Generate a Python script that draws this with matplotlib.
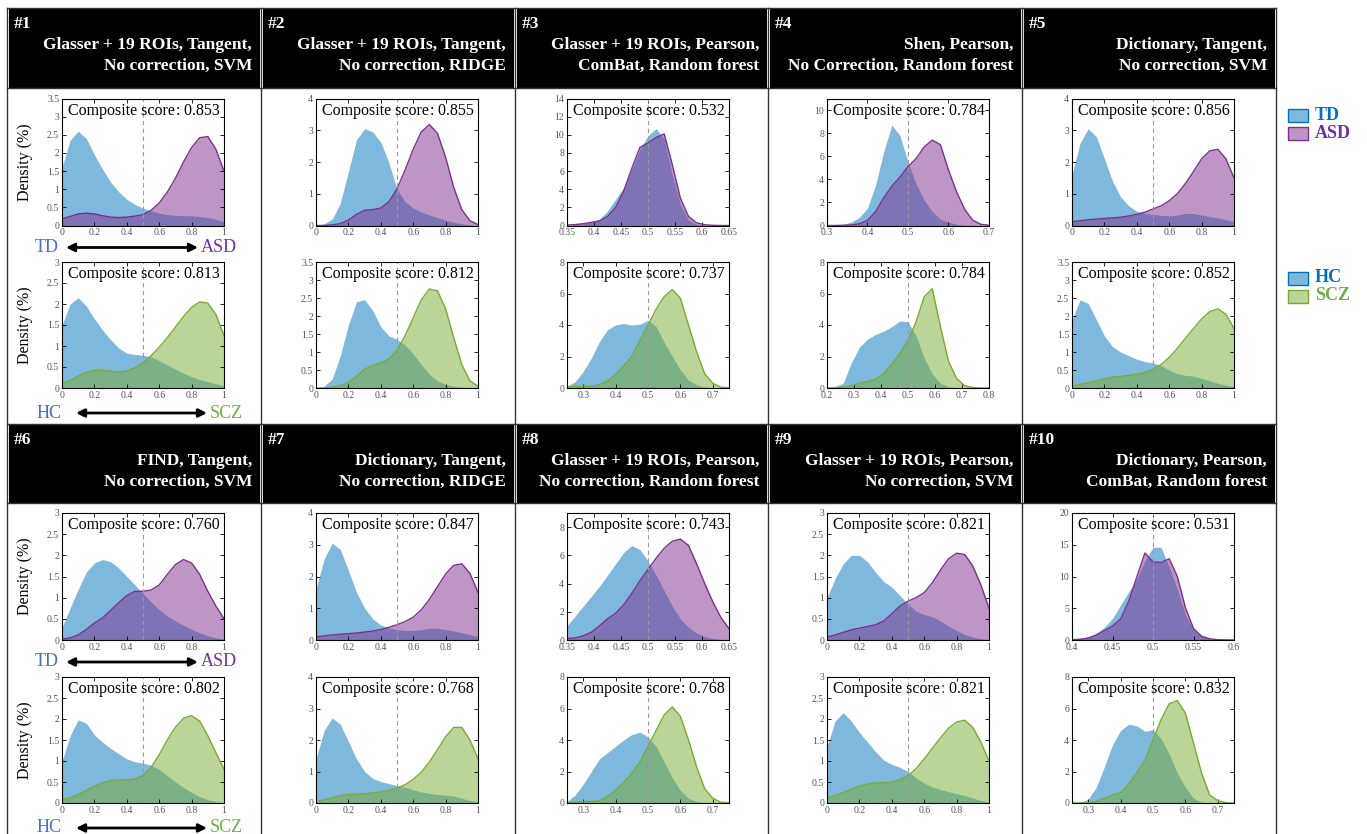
import numpy as np
import matplotlib
matplotlib.use('Agg')
import matplotlib.pyplot as plt
from matplotlib.patches import Rectangle

# ---------------- data ----------------
HEADERS = [
    ("#1", "Glasser + 19 ROIs, Tangent,", "No correction, SVM"),
    ("#2", "Glasser + 19 ROIs, Tangent,", "No correction, RIDGE"),
    ("#3", "Glasser + 19 ROIs, Pearson,", "ComBat, Random forest"),
    ("#4", "Shen, Pearson,", "No Correction, Random forest"),
    ("#5", "Dictionary, Tangent,", "No correction, SVM"),
    ("#6", "FIND, Tangent,", "No correction, SVM"),
    ("#7", "Dictionary, Tangent,", "No correction, RIDGE"),
    ("#8", "Glasser + 19 ROIs, Pearson,", "No correction, Random forest"),
    ("#9", "Glasser + 19 ROIs, Pearson,", "No correction, SVM"),
    ("#10", "Dictionary, Pearson,", "ComBat, Random forest"),
]
SCORE_ASD = ["0.853", "0.855", "0.532", "0.784", "0.856", "0.760", "0.847", "0.743", "0.821", "0.531"]
SCORE_SCZ = ["0.813", "0.812", "0.737", "0.784", "0.852", "0.802", "0.768", "0.768", "0.821", "0.832"]

XLIM_ASD = [(0, 1), (0, 1), (0.35, 0.65), (0.3, 0.7), (0, 1), (0, 1), (0, 1), (0.35, 0.65), (0, 1), (0.4, 0.6)]
XLIM_SCZ = [(0, 1), (0, 1), (0.25, 0.75), (0.2, 0.8), (0, 1), (0, 1), (0, 1), (0.25, 0.75), (0, 1), (0.25, 0.75)]
XT01 = [0, 0.2, 0.4, 0.6, 0.8, 1]
XT_NARROW = [0.35, 0.4, 0.45, 0.5, 0.55, 0.6, 0.65]
XT_MID = [0.3, 0.4, 0.5, 0.6, 0.7]
XT_WIDE = [0.2, 0.3, 0.4, 0.5, 0.6, 0.7, 0.8]
XT_TINY = [0.4, 0.45, 0.5, 0.55, 0.6]
XTICK_ASD = [XT01, XT01, XT_NARROW, XT_MID, XT01, XT01, XT01, XT_NARROW, XT01, XT_TINY]
XTICK_SCZ = [XT01, XT01, XT_MID, XT_WIDE, XT01, XT01, XT01, XT_MID, XT01, XT_MID]
YLIM_ASD = [3.5, 4, 14, 11, 4, 3, 4, 9, 3, 20]
YSTEP_ASD = [0.5, 1, 2, 2, 1, 0.5, 1, 2, 0.5, 5]
YLIM_SCZ = [3, 3.5, 8, 8, 3.5, 3, 4, 8, 3, 8]
YSTEP_SCZ = [0.5, 0.5, 2, 2, 0.5, 0.5, 1, 2, 0.5, 2]

# density curves, 21 evenly spaced samples across each panel's x-range
TD_1 = [1.6, 2.35, 2.6, 2.4, 1.95, 1.55, 1.2, 0.93, 0.72, 0.58, 0.48, 0.4, 0.34, 0.3, 0.28, 0.27, 0.27, 0.25, 0.22, 0.17, 0.1]
ASD_1 = [0.18, 0.25, 0.32, 0.34, 0.32, 0.27, 0.23, 0.22, 0.23, 0.26, 0.3, 0.42, 0.62, 0.92, 1.3, 1.75, 2.15, 2.42, 2.45, 2.1, 1.5]
HC_1 = [1.5, 2.0, 2.15, 1.95, 1.65, 1.38, 1.15, 0.95, 0.83, 0.8, 0.78, 0.74, 0.65, 0.55, 0.45, 0.35, 0.27, 0.2, 0.15, 0.1, 0.05]
SCZ_1 = [0.1, 0.18, 0.28, 0.37, 0.42, 0.42, 0.4, 0.38, 0.4, 0.48, 0.6, 0.77, 0.97, 1.2, 1.45, 1.7, 1.92, 2.05, 2.02, 1.75, 1.25]

TD_2 = [0, 0.05, 0.2, 0.7, 1.7, 2.7, 3.05, 2.95, 2.62, 1.98, 1.15, 0.75, 0.55, 0.43, 0.33, 0.25, 0.17, 0.1, 0.05, 0.02, 0]
ASD_2 = [0, 0, 0.02, 0.06, 0.17, 0.35, 0.48, 0.5, 0.55, 0.75, 1.15, 1.75, 2.4, 2.95, 3.18, 2.9, 2.15, 1.2, 0.5, 0.15, 0.03]
HC_2 = [0, 0.05, 0.25, 0.9, 1.75, 2.4, 2.45, 2.15, 1.7, 1.45, 1.35, 1.2, 0.95, 0.65, 0.38, 0.2, 0.1, 0.05, 0.02, 0.01, 0]
SCZ_2 = [0, 0, 0.02, 0.06, 0.15, 0.33, 0.52, 0.63, 0.7, 0.8, 1.05, 1.45, 1.95, 2.45, 2.75, 2.7, 2.2, 1.4, 0.65, 0.2, 0.05]

TD_3 = [0.05, 0.1, 0.2, 0.4, 0.7, 1.6, 2.9, 4.2, 6.2, 8.4, 9.9, 10.7, 9.5, 5.6, 2.3, 0.6, 0.1, 0.02, 0.01, 0, 0]
ASD_3 = [0.05, 0.1, 0.2, 0.35, 0.5, 1.0, 2.0, 3.8, 6.3, 8.6, 9.1, 9.7, 10.1, 6.7, 3.0, 1.0, 0.3, 0.08, 0.02, 0, 0]
HC_3 = [0.1, 0.4, 1.05, 1.9, 2.95, 3.7, 4.0, 4.1, 4.0, 4.05, 4.3, 3.9, 2.9, 2.0, 1.15, 0.5, 0.2, 0.05, 0.02, 0, 0]
SCZ_3 = [0.05, 0.1, 0.1, 0.12, 0.2, 0.45, 0.85, 1.4, 2.0, 3.0, 4.0, 5.0, 5.8, 6.25, 5.7, 4.0, 2.3, 0.9, 0.3, 0.05, 0.02]

TD_4 = [0.02, 0.05, 0.1, 0.3, 0.7, 1.5, 3.5, 6.4, 8.7, 7.8, 5.5, 3.6, 2.2, 1.2, 0.55, 0.3, 0.1, 0.03, 0.01, 0, 0]
ASD_4 = [0, 0, 0.02, 0.05, 0.15, 0.45, 1.2, 2.4, 3.4, 4.2, 5.1, 5.8, 6.8, 7.4, 7.0, 4.8, 2.9, 1.4, 0.45, 0.1, 0.02]
HC_4 = [0.02, 0.1, 0.3, 1.6, 2.6, 3.1, 3.4, 3.6, 3.9, 4.25, 4.2, 3.3, 1.9, 0.9, 0.3, 0.08, 0.03, 0.01, 0, 0, 0]
SCZ_4 = [0, 0.02, 0.05, 0.15, 0.3, 0.4, 0.55, 0.9, 1.5, 2.2, 3.0, 4.2, 5.8, 6.3, 3.9, 1.7, 0.6, 0.15, 0.03, 0, 0]

TD_5 = [1.6, 2.6, 3.05, 2.8, 2.1, 1.4, 0.9, 0.62, 0.45, 0.38, 0.35, 0.32, 0.3, 0.33, 0.38, 0.38, 0.33, 0.28, 0.24, 0.18, 0.12]
ASD_5 = [0.12, 0.15, 0.18, 0.2, 0.22, 0.24, 0.26, 0.3, 0.35, 0.42, 0.52, 0.62, 0.78, 1.0, 1.32, 1.7, 2.1, 2.35, 2.4, 2.1, 1.5]
HC_5 = [1.9, 2.45, 2.35, 1.9, 1.45, 1.15, 1.0, 0.9, 0.8, 0.73, 0.7, 0.62, 0.5, 0.4, 0.35, 0.33, 0.27, 0.2, 0.13, 0.08, 0.04]
SCZ_5 = [0.05, 0.1, 0.15, 0.2, 0.25, 0.3, 0.32, 0.35, 0.38, 0.43, 0.52, 0.65, 0.85, 1.1, 1.38, 1.65, 1.92, 2.12, 2.2, 2.05, 1.65]

TD_6 = [0.3, 0.75, 1.2, 1.6, 1.82, 1.9, 1.85, 1.7, 1.5, 1.3, 1.1, 0.9, 0.72, 0.57, 0.45, 0.35, 0.25, 0.17, 0.1, 0.05, 0.02]
ASD_6 = [0.02, 0.05, 0.12, 0.25, 0.4, 0.52, 0.7, 0.88, 1.05, 1.15, 1.15, 1.18, 1.3, 1.55, 1.78, 1.9, 1.82, 1.55, 1.15, 0.8, 0.5]
HC_6 = [1.0, 1.6, 1.98, 1.9, 1.62, 1.45, 1.3, 1.17, 1.05, 0.98, 0.95, 0.9, 0.8, 0.65, 0.5, 0.37, 0.25, 0.15, 0.08, 0.03, 0.01]
SCZ_6 = [0.08, 0.12, 0.2, 0.3, 0.4, 0.48, 0.53, 0.55, 0.55, 0.57, 0.65, 0.85, 1.15, 1.5, 1.8, 2.02, 2.08, 1.95, 1.6, 1.2, 0.8]

TD_7 = [1.6, 2.55, 3.05, 2.85, 2.2, 1.5, 1.0, 0.67, 0.47, 0.38, 0.33, 0.3, 0.3, 0.33, 0.37, 0.37, 0.33, 0.28, 0.23, 0.17, 0.1]
ASD_7 = [0.1, 0.13, 0.16, 0.18, 0.2, 0.22, 0.25, 0.28, 0.33, 0.4, 0.48, 0.58, 0.72, 0.95, 1.28, 1.68, 2.08, 2.35, 2.4, 2.1, 1.5]
HC_7 = [1.4, 2.3, 2.7, 2.5, 1.95, 1.4, 1.0, 0.78, 0.68, 0.62, 0.55, 0.5, 0.42, 0.35, 0.3, 0.27, 0.25, 0.22, 0.15, 0.08, 0.04]
SCZ_7 = [0.05, 0.1, 0.17, 0.23, 0.27, 0.28, 0.29, 0.32, 0.35, 0.4, 0.48, 0.58, 0.75, 0.98, 1.3, 1.7, 2.1, 2.4, 2.4, 2.0, 1.4]

TD_8 = [1.0, 1.7, 2.4, 3.1, 3.8, 4.6, 5.4, 6.2, 6.7, 6.4, 5.6, 4.6, 3.5, 2.4, 1.5, 0.9, 0.5, 0.25, 0.1, 0.05, 0.02]
ASD_8 = [0.1, 0.15, 0.3, 0.55, 1.0, 1.5, 1.9, 2.5, 3.3, 4.2, 5.0, 5.8, 6.5, 7.0, 7.15, 6.7, 5.4, 4.0, 2.7, 1.6, 0.8]
HC_8 = [0.1, 0.5, 1.2, 2.0, 2.8, 3.2, 3.6, 4.0, 4.35, 4.5, 4.2, 3.6, 2.6, 1.6, 0.8, 0.3, 0.1, 0.03, 0.01, 0, 0]
SCZ_8 = [0.02, 0.05, 0.08, 0.1, 0.15, 0.4, 0.8, 1.3, 1.9, 2.6, 3.6, 4.6, 5.6, 6.1, 5.5, 4.0, 2.3, 0.9, 0.3, 0.05, 0.02]

TD_9 = [1.0, 1.45, 1.8, 2.0, 2.0, 1.85, 1.6, 1.38, 1.25, 1.05, 0.85, 0.68, 0.6, 0.55, 0.45, 0.33, 0.22, 0.13, 0.07, 0.03, 0.01]
ASD_9 = [0.07, 0.12, 0.18, 0.24, 0.28, 0.32, 0.36, 0.45, 0.62, 0.8, 0.92, 1.0, 1.12, 1.35, 1.65, 1.92, 2.05, 2.02, 1.75, 1.3, 0.75]
HC_9 = [1.35, 1.95, 2.15, 1.95, 1.68, 1.45, 1.22, 1.02, 0.92, 0.85, 0.75, 0.6, 0.47, 0.38, 0.32, 0.27, 0.22, 0.18, 0.12, 0.06, 0.02]
SCZ_9 = [0.12, 0.18, 0.25, 0.33, 0.4, 0.45, 0.48, 0.48, 0.5, 0.55, 0.65, 0.82, 1.05, 1.3, 1.55, 1.78, 1.93, 1.97, 1.8, 1.45, 1.0]

TD_10 = [0.2, 0.3, 0.5, 1.0, 2.0, 3.4, 5.5, 7.6, 9.6, 12.5, 14.6, 14.6, 11.5, 8.0, 4.0, 1.6, 0.6, 0.2, 0.06, 0.02, 0]
ASD_10 = [0.05, 0.1, 0.3, 0.8, 1.5, 2.2, 3.3, 6.1, 9.9, 13.7, 12.3, 12.2, 12.8, 10.0, 5.1, 1.8, 0.6, 0.2, 0.05, 0.02, 0]
HC_10 = [0, 0.02, 0.25, 1.0, 2.3, 3.7, 4.6, 5.0, 4.9, 4.55, 4.65, 4.1, 3.1, 1.9, 1.0, 0.3, 0.05, 0.01, 0, 0, 0]
SCZ_10 = [0, 0, 0.02, 0.1, 0.3, 0.5, 0.65, 1.2, 1.9, 2.7, 4.0, 5.3, 6.3, 6.5, 5.7, 3.8, 1.9, 0.5, 0.15, 0.02, 0]

TD = [TD_1, TD_2, TD_3, TD_4, TD_5, TD_6, TD_7, TD_8, TD_9, TD_10]
ASD = [ASD_1, ASD_2, ASD_3, ASD_4, ASD_5, ASD_6, ASD_7, ASD_8, ASD_9, ASD_10]
HC = [HC_1, HC_2, HC_3, HC_4, HC_5, HC_6, HC_7, HC_8, HC_9, HC_10]
SCZ = [SCZ_1, SCZ_2, SCZ_3, SCZ_4, SCZ_5, SCZ_6, SCZ_7, SCZ_8, SCZ_9, SCZ_10]

# ---------------- style / layout ----------------
SERIF = ['Liberation Serif', 'DejaVu Serif']
BLUE = '#0072BD'
PURPLE = '#7E2F8E'
GREEN = '#77AC30'
COLON_SCZ = ['black'] * 8 + ['#FF0000'] + ['black']

W, H = 1367, 834
COL_X = [7, 261, 515, 768, 1022, 1276]
HDR = [(8, 88), (424, 503)]
AX_L = [62, 316, 567, 827, 1072]
AX_TOP = [(98.5, 262), (513, 677)]
AX_W, AX_H = 162, 127


def rect(l, t, w, h):
    return [l / W, 1 - (t + h) / H, w / W, h / H]


fig = plt.figure(figsize=(W / 100, H / 100), dpi=100)
bg = fig.add_axes([0, 0, 1, 1])
bg.set_xlim(0, W)
bg.set_ylim(H, 0)
bg.axis('off')

# table borders
for x in COL_X:
    bg.plot([x, x], [HDR[0][0], H], color='#333333', lw=1.0)
for y in [HDR[0][0], HDR[0][1], HDR[1][0], HDR[1][1]]:
    bg.plot([COL_X[0], COL_X[-1]], [y, y], color='#333333', lw=1.0)


def score_text(ax, score, colon_color):
    yb = 0.872
    t1 = ax.text(0.04, yb, 'Composite score', transform=ax.transAxes, fontsize=11.5,
                 family=SERIF, va='baseline', ha='left', color='black', zorder=6)
    t2 = ax.annotate(':', xy=(1, yb), xycoords=(t1, ax.transAxes), fontsize=11.5,
                     family=SERIF, va='baseline', ha='left', color=colon_color, zorder=6)
    ax.annotate(' ' + score, xy=(1, yb), xycoords=(t2, ax.transAxes), fontsize=11.5,
                family=SERIF, va='baseline', ha='left', color='black', zorder=6)


def draw_panel(ax, xlim, ymax, ystep, xticks, yb, yd, dcolor, score, colon_color, ylabel):
    x = np.linspace(xlim[0], xlim[1], len(yb))
    ax.fill_between(x, 0, yb, color=BLUE, alpha=0.5, lw=0)
    ax.fill_between(x, 0, yd, color=dcolor, alpha=0.5, lw=0)
    ax.plot(x, yd, color=dcolor, lw=1.0)
    ax.axvline(0.5, color='#9a9a9a', lw=0.8, dashes=(4, 3))
    ax.set_xlim(*xlim)
    ax.set_ylim(0, ymax)
    ax.set_xticks(xticks)
    ax.set_xticklabels(['%g' % v for v in xticks])
    yt = np.arange(0, ymax + 1e-9, ystep)
    if yt[-1] > ymax + 1e-9:
        yt = yt[:-1]
    ax.set_yticks(yt)
    ax.set_yticklabels(['%g' % v for v in yt])
    ax.tick_params(direction='in', length=3, width=0.6, top=True, right=True,
                   labelsize=7, labelcolor='#555555', pad=2)
    for lab in ax.get_xticklabels() + ax.get_yticklabels():
        lab.set_family(SERIF)
    for s in ax.spines.values():
        s.set_linewidth(0.8)
        s.set_color('black')
    score_text(ax, score, colon_color)
    if ylabel:
        ax.set_ylabel('Density (%)', fontsize=11.5, family=SERIF)
        ax.yaxis.set_label_coords(-0.18, 0.5)


for i in range(10):
    r, c = divmod(i, 5)
    x0, x1 = COL_X[c], COL_X[c + 1]
    t, b = HDR[r]
    bg.add_patch(Rectangle((x0 + 1.5, t + 1), x1 - x0 - 3, b - t - 1.5, fc='black', ec='none'))
    bg.text(x0 + 7, t + 16, HEADERS[i][0], color='white', fontweight='bold', fontsize=12.5,
            family=SERIF, ha='left', va='center')
    bg.text(x1 - 9, t + 37, HEADERS[i][1], color='white', fontweight='bold', fontsize=12.5,
            family=SERIF, ha='right', va='center')
    bg.text(x1 - 9, t + 58, HEADERS[i][2], color='white', fontweight='bold', fontsize=12.5,
            family=SERIF, ha='right', va='center')

    top1, top2 = AX_TOP[r]
    ax1 = fig.add_axes(rect(AX_L[c], top1, AX_W, AX_H))
    draw_panel(ax1, XLIM_ASD[i], YLIM_ASD[i], YSTEP_ASD[i], XTICK_ASD[i], TD[i], ASD[i],
               PURPLE, SCORE_ASD[i], 'black', c == 0)
    ax2 = fig.add_axes(rect(AX_L[c], top2, AX_W, AX_H - 1))
    draw_panel(ax2, XLIM_SCZ[i], YLIM_SCZ[i], YSTEP_SCZ[i], XTICK_SCZ[i], HC[i], SCZ[i],
               GREEN, SCORE_SCZ[i], COLON_SCZ[i], c == 0)

    if c == 0:
        L = AX_L[0]
        ya = top1 + AX_H + 22
        bg.annotate('', xy=(L + 136, ya), xytext=(L + 4, ya),
                    arrowprops=dict(arrowstyle='<|-|>', color='black', lw=2,
                                    mutation_scale=12, shrinkA=0, shrinkB=0))
        bg.text(L - 15, ya, 'TD', color='#4472C4', fontsize=13, family=SERIF, ha='center', va='center')
        bg.text(L + 157, ya, 'ASD', color='#7030A0', fontsize=13, family=SERIF, ha='center', va='center')
        yb2 = top2 + AX_H + 24
        bg.annotate('', xy=(L + 145, yb2), xytext=(L + 14, yb2),
                    arrowprops=dict(arrowstyle='<|-|>', color='black', lw=2,
                                    mutation_scale=12, shrinkA=0, shrinkB=0))
        bg.text(L - 13, yb2, 'HC', color='#4472C4', fontsize=13, family=SERIF, ha='center', va='center')
        bg.text(L + 164, yb2, 'SCZ', color='#70AD47', fontsize=13, family=SERIF, ha='center', va='center')

# legend
LEG = [('TD', BLUE, '#0070C0', 115), ('ASD', PURPLE, '#7030A0', 133),
       ('HC', BLUE, '#0070C0', 278), ('SCZ', GREEN, '#70AD47', 296)]
for name, col, tcol, yc in LEG:
    bg.add_patch(Rectangle((1288, yc - 6.5), 20, 13, fc=col, alpha=0.5, ec='none'))
    bg.add_patch(Rectangle((1288, yc - 6.5), 20, 13, fc='none', ec=col, lw=1))
    bg.text(1315, yc, name, color=tcol, fontsize=13, fontweight='bold', family=SERIF,
            ha='left', va='center')

fig.savefig('out.png', dpi=100)
